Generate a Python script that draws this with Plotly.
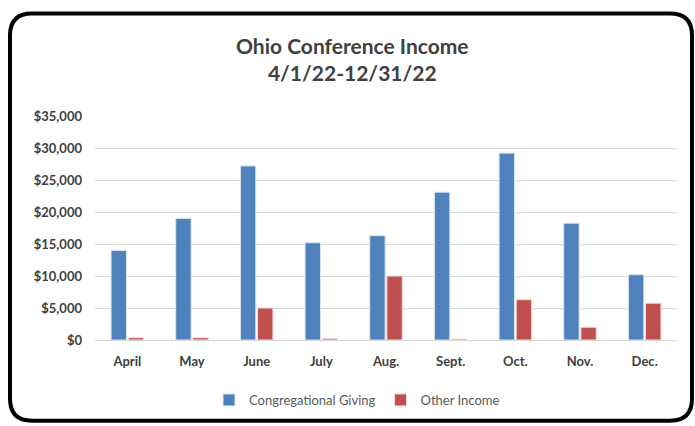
import plotly.graph_objects as go

months = ["April", "May", "June", "July", "Aug.", "Sept.", "Oct.", "Nov.", "Dec."]
congregational = [14000, 19000, 27200, 15200, 16300, 23100, 29200, 18250, 10200]
other = [350, 350, 5000, 200, 10000, 150, 6300, 2000, 5750]
y_ticks = [0, 5000, 10000, 15000, 20000, 25000, 30000, 35000]
y_tick_labels = ["$0", "$5,000", "$10,000", "$15,000", "$20,000", "$25,000", "$30,000", "$35,000"]

W, H = 695, 426
L, R, T, B = 95, 18, 116, 85
PW, PH = W - L - R, H - T - B

def px(x):
    return (x - L) / PW

def py(y):
    return (H - B - y) / PH

fig = go.Figure()
fig.add_trace(go.Bar(name="Congregational Giving", x=months, y=congregational,
                     marker=dict(color="#4F81BD", line=dict(color="#DCE6F2", width=1))))
fig.add_trace(go.Bar(name="Other Income", x=months, y=other,
                     marker=dict(color="#C0504D", line=dict(color="#F2DCDB", width=1))))

# rounded border
x0, x1, y0, y1, r = 10, 692, 13, 422, 22
path = (f"M {px(x0+r)},{py(y0)} L {px(x1-r)},{py(y0)} Q {px(x1)},{py(y0)} {px(x1)},{py(y0+r)} "
        f"L {px(x1)},{py(y1-r)} Q {px(x1)},{py(y1)} {px(x1-r)},{py(y1)} "
        f"L {px(x0+r)},{py(y1)} Q {px(x0)},{py(y1)} {px(x0)},{py(y1-r)} "
        f"L {px(x0)},{py(y0+r)} Q {px(x0)},{py(y0)} {px(x0+r)},{py(y0)} Z")

fig.update_layout(
    width=W, height=H,
    margin=dict(l=L, r=R, t=T, b=B),
    paper_bgcolor="white", plot_bgcolor="white",
    barmode="group", bargap=0.47, bargroupgap=0.1,
    font=dict(family="Lato, 'Open Sans', sans-serif", color="#595959"),
    shapes=[dict(type="path", path=path, xref="paper", yref="paper",
                 line=dict(color="black", width=4), layer="above")],
    annotations=[dict(text="Ohio Conference Income<br>4/1/22-12/31/22",
                      xref="paper", yref="paper", x=px(352), y=py(59),
                      xanchor="center", yanchor="middle", showarrow=False,
                      font=dict(size=21, color="#404040", family="Lato, sans-serif", weight="bold"))],
    legend=dict(orientation="h", x=px(357), xanchor="center", y=py(400), yanchor="middle",
                font=dict(size=13, color="#595959"), itemwidth=30, traceorder="normal"),
    xaxis=dict(showgrid=False, showline=False, ticks="", ticklabelstandoff=12,
               tickfont=dict(size=13, color="#404040", family="Lato, sans-serif", weight="bold")),
    yaxis=dict(range=[0, 35000], tickvals=y_ticks, ticktext=y_tick_labels,
               showgrid=True, gridcolor="#D9D9D9", gridwidth=1, zeroline=True,
               zerolinecolor="#D9D9D9", zerolinewidth=1, ticks="", ticklabelstandoff=12,
               tickfont=dict(size=13, color="#404040", family="Lato, sans-serif", weight="bold")),
)

fig.write_html("out.html", config={"displayModeBar": False},
               post_script="document.body.style.margin='0';document.body.style.overflow='hidden';")
